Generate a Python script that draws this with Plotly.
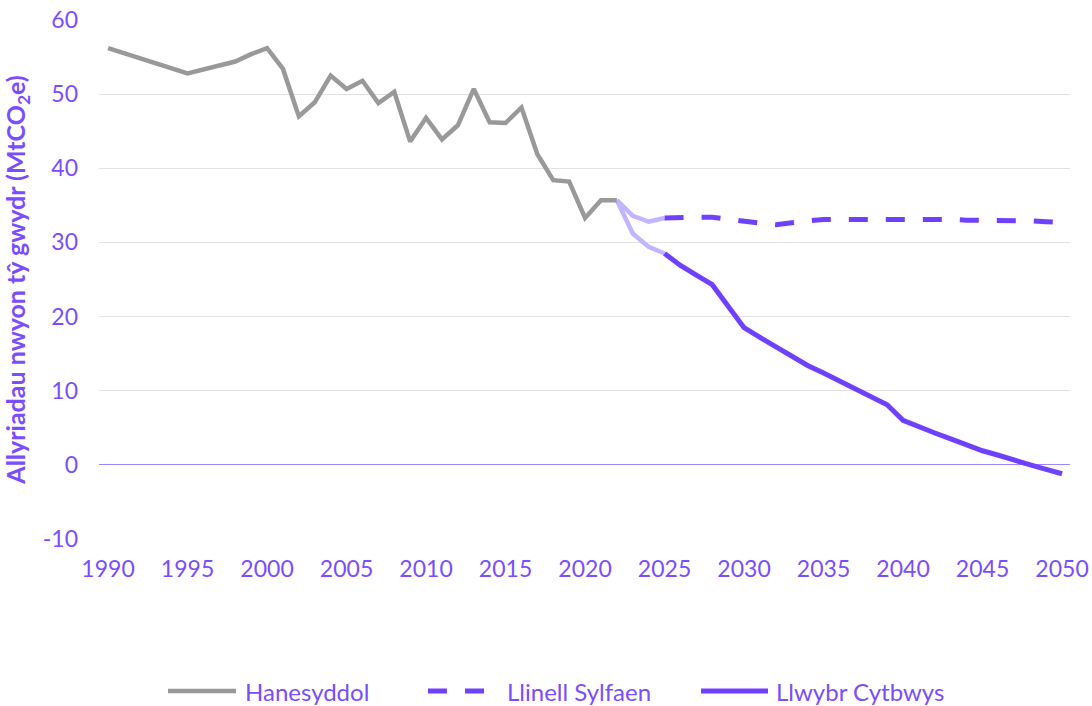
import plotly.graph_objects as go

hist_years = [1990, 1995, 1998, 1999, 2000, 2001, 2002, 2003, 2004, 2005, 2006, 2007, 2008, 2009,
              2010, 2011, 2012, 2013, 2014, 2015, 2016, 2017, 2018, 2019, 2020, 2021, 2022]
hist_vals = [56.2, 52.8, 54.4, 55.4, 56.2, 53.4, 47.0, 48.9, 52.5, 50.7, 51.8, 48.8, 50.3, 43.6,
             46.8, 43.9, 45.8, 50.7, 46.2, 46.1, 48.2, 41.9, 38.4, 38.2, 33.3, 35.7, 35.7]

trans_years = [2022, 2023, 2024, 2025]
base_trans = [35.7, 33.6, 32.8, 33.3]
path_trans = [35.7, 31.2, 29.4, 28.5]

proj_years = list(range(2025, 2051))
base_vals = [33.3, 33.4, 33.4, 33.4, 33.1, 32.8, 32.6, 32.4, 32.7, 32.9, 33.1, 33.1, 33.2,
             33.2, 33.2, 33.2, 33.1, 33.1, 33.1, 33.0, 33.0, 33.0, 32.9, 32.9, 32.8, 32.7]
path_vals = [28.5, 26.9, 25.6, 24.3, 21.4, 18.5, 17.2, 15.9, 14.6, 13.4, 12.4, 11.3, 10.3,
             9.1, 8.1, 6.0, 5.1, 4.3, 3.5, 2.7, 1.9, 1.3, 0.6, 0.0, -0.6, -1.2]

x_ticks = list(range(1990, 2051, 5))
y_ticks = list(range(-10, 61, 10))
y_ticktext = ["-10", "0", "10", "20", "30", "40", "50", "60"]

names = ["Hanesyddol", "Llinell Sylfaen", "Llwybr Cytbwys"]

PURPLE = "#7040FF"
TEXT = "#7A4DFF"
LIGHT = "#C3B4FF"
GREY = "#999999"
FONT = "Lato, 'Open Sans', sans-serif"

W, H = 1092, 706
ML, MR, MT, MB = 99, 22, 20, 167
PW, PH = W - ML - MR, H - MT - MB


def px(xp):
    return (xp - ML) / PW


def py(yp):
    return (H - MB - yp) / PH


fig = go.Figure()
fig.add_trace(go.Scatter(x=trans_years, y=base_trans, mode="lines", showlegend=False,
                         line=dict(color=LIGHT, width=4.5), hoverinfo="skip"))
fig.add_trace(go.Scatter(x=trans_years, y=path_trans, mode="lines", showlegend=False,
                         line=dict(color=LIGHT, width=4.5), hoverinfo="skip"))
fig.add_trace(go.Scatter(x=hist_years, y=hist_vals, mode="lines", name=names[0], showlegend=False,
                         line=dict(color=GREY, width=4.5)))
fig.add_trace(go.Scatter(x=proj_years, y=base_vals, mode="lines", name=names[1], showlegend=False,
                         line=dict(color=PURPLE, width=5, dash="19px,18px")))
fig.add_trace(go.Scatter(x=proj_years, y=path_vals, mode="lines", name=names[2], showlegend=False,
                         line=dict(color=PURPLE, width=5)))

# legend (drawn as shapes + text below the plot)
leg_y = py(691)
leg_items = [
    (168, 236, 243, GREY, 4.5, "solid", names[0]),
    (428, 484, 505, PURPLE, 5, "19px,18px", names[1]),
    (701, 768, 774, PURPLE, 5, "solid", names[2]),
]
for x0, x1, xt, col, w, dash, label in leg_items:
    fig.add_shape(type="line", xref="paper", yref="paper", x0=px(x0), x1=px(x1),
                  y0=leg_y, y1=leg_y, line=dict(color=col, width=w, dash=dash))
    fig.add_annotation(xref="paper", yref="paper", x=px(xt), y=leg_y, text=label,
                       showarrow=False, xanchor="left", yanchor="middle",
                       font=dict(size=24, color=TEXT, family=FONT))

fig.update_layout(
    width=W, height=H,
    margin=dict(l=ML, r=MR, t=MT, b=MB, autoexpand=False),
    paper_bgcolor="white", plot_bgcolor="white",
    font=dict(family=FONT, color=TEXT, size=22),
    showlegend=False,
)
fig.update_xaxes(range=[1989.43, 2050.5], tickvals=x_ticks, ticktext=[str(v) for v in x_ticks],
                 showgrid=False, zeroline=False, showline=False, ticks="", automargin=False,
                 ticklabelstandoff=14, tickfont=dict(size=23, color=TEXT))
fig.update_yaxes(range=[-10, 60], tickvals=y_ticks, ticktext=y_ticktext, showgrid=True,
                 gridcolor="#E2E2E2", gridwidth=1.3, zeroline=True, zerolinecolor="#9D85FF",
                 zerolinewidth=1.3, ticks="", ticklabelstandoff=20, automargin=False,
                 tickfont=dict(size=23, color=TEXT),
                 title=dict(text="<b>Allyriadau nwyon tŷ gwydr (MtCO<sub>2</sub>e)</b>",
                            font=dict(size=25, color=TEXT), standoff=12))

fig.write_html("out.html", config={"displayModeBar": False},
               post_script="document.body.style.margin='0';document.body.style.overflow='hidden';")
